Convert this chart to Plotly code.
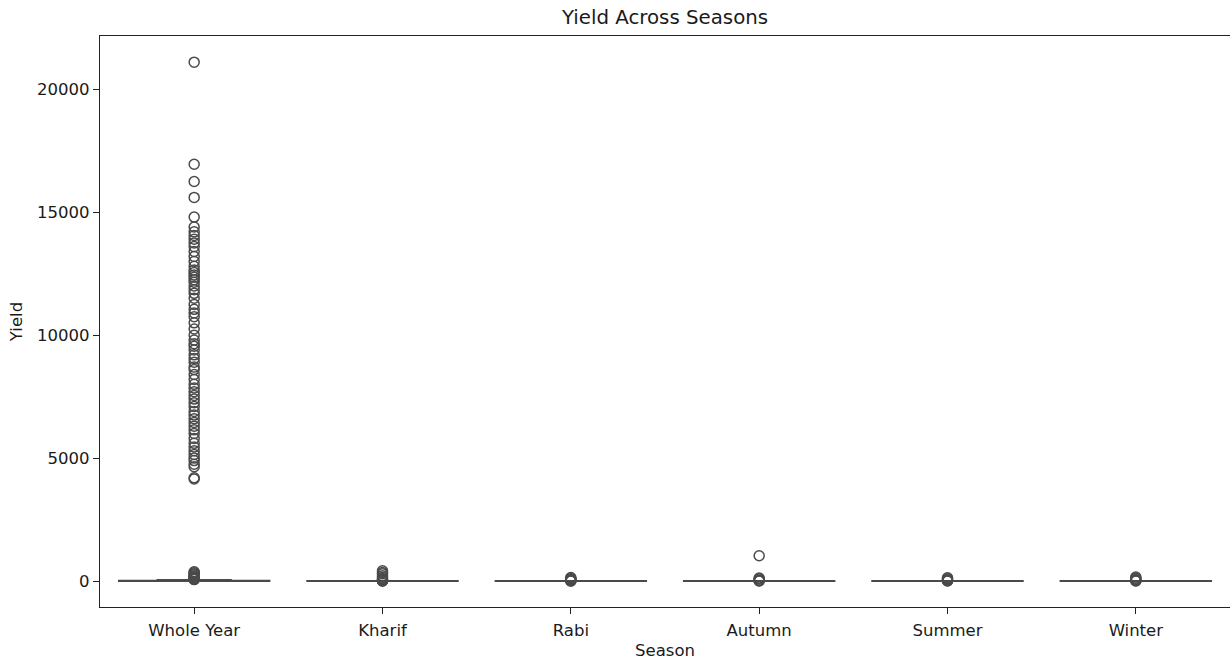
import plotly.graph_objects as go

# Crop yield summary by season
seasons = ["Whole Year", "Kharif", "Rabi", "Autumn", "Summer", "Winter"]

# Box statistics per season (yield units)
q1 = [0.6, 0.5, 0.4, 0.4, 0.4, 0.4]
median = [1.5, 1.0, 0.9, 0.9, 0.9, 0.9]
q3 = [20.0, 2.0, 1.8, 1.8, 1.8, 1.9]
lower_fence = [0.0, 0.0, 0.0, 0.0, 0.0, 0.0]
upper_fence = [48.0, 4.2, 3.9, 3.9, 3.9, 4.1]

# Outlying yields per season
outliers_whole_year = [
    21100, 16950, 16250, 15600, 14800, 14400, 14200, 14050, 13900, 13750,
    13600, 13400, 13200, 13000, 12800, 12650, 12550, 12450, 12350, 12250,
    12150, 12000, 11850, 11700, 11500, 11250, 11050, 10900, 10750, 10500,
    10250, 10000, 9800, 9650, 9550, 9400, 9200, 9050, 8900, 8700,
    8600, 8400, 8200, 8000, 7850, 7700, 7550, 7400, 7250, 7100,
    6900, 6750, 6600, 6450, 6300, 6150, 6000, 5800, 5600, 5450,
    5300, 5150, 5000, 4900, 4750, 4650, 4200, 4150,
    380, 340, 300, 260, 220, 180, 150, 120, 100, 80, 60,
]
outliers_kharif = [420, 350, 300, 220, 150, 100, 60, 35, 20, 12, 8, 5]
outliers_rabi = [140, 100, 60, 30, 15, 8, 4]
outliers_autumn = [1030, 120, 80, 30, 12, 5]
outliers_summer = [130, 90, 50, 25, 12, 6]
outliers_winter = [160, 110, 60, 30, 15, 7]

outliers = {
    "Whole Year": outliers_whole_year,
    "Kharif": outliers_kharif,
    "Rabi": outliers_rabi,
    "Autumn": outliers_autumn,
    "Summer": outliers_summer,
    "Winter": outliers_winter,
}

line_gray = "#4a4a4a"
font_family = "DejaVu Sans, sans-serif"

fig = go.Figure()

fig.add_trace(go.Box(
    x=seasons,
    q1=q1,
    median=median,
    q3=q3,
    lowerfence=lower_fence,
    upperfence=upper_fence,
    width=0.8,
    whiskerwidth=0.5,
    boxpoints=False,
    fillcolor="#7f7f7f",
    line=dict(color=line_gray, width=1.8),
    showlegend=False,
    hoverinfo="skip",
))

flier_x, flier_y = [], []
for s in seasons:
    flier_x.extend([s] * len(outliers[s]))
    flier_y.extend(outliers[s])

fig.add_trace(go.Scatter(
    x=flier_x,
    y=flier_y,
    mode="markers",
    marker=dict(symbol="circle-open", size=10, color=line_gray, line=dict(width=1.5)),
    showlegend=False,
    hoverinfo="skip",
))

fig.update_layout(
    width=1230,
    height=662,
    margin=dict(l=100, r=0, t=36, b=55),
    paper_bgcolor="white",
    plot_bgcolor="white",
    font=dict(family=font_family, size=16.5, color="#1a1a1a"),
    title=dict(
        text="Yield Across Seasons",
        x=665 / 1230, xanchor="center", xref="container",
        y=1 - 17 / 662, yanchor="middle", yref="container",
        font=dict(size=19.8, family=font_family, color="#1a1a1a"),
    ),
)

fig.update_xaxes(
    type="category",
    categoryorder="array",
    categoryarray=seasons,
    range=[-0.5, 5.5],
    showgrid=False,
    zeroline=False,
    showline=True,
    linecolor="#222222",
    linewidth=1.2,
    mirror=True,
    ticks="outside",
    ticklen=6,
    tickcolor="#222222",
    tickfont=dict(size=16.5),
    ticklabelstandoff=2,
    title=dict(text="Season", font=dict(size=16.5), standoff=5),
)

fig.update_yaxes(
    range=[-1055, 22165],
    tickvals=[0, 5000, 10000, 15000, 20000],
    ticktext=["0", "5000", "10000", "15000", "20000"],
    showgrid=False,
    zeroline=False,
    showline=True,
    linecolor="#222222",
    linewidth=1.2,
    ticks="outside",
    ticklen=6,
    tickcolor="#222222",
    tickfont=dict(size=16.5),
    title=dict(text="Yield", font=dict(size=16.5), standoff=10),
)

fig.write_html("out.html")
